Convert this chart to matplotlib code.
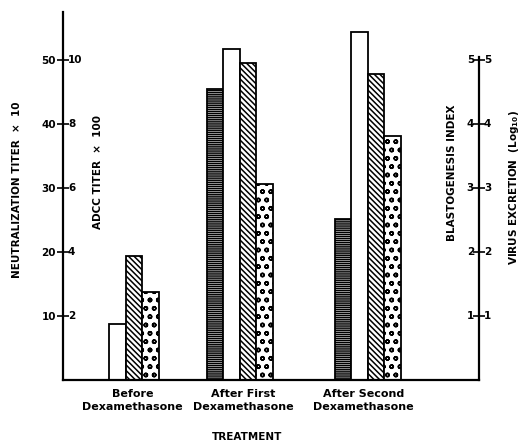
import matplotlib
matplotlib.use("Agg")
import matplotlib.pyplot as plt
import matplotlib.transforms as mtransforms

# values read in neutralization-titer units (left axis, 0-50)
groups = ["Before\nDexamethasone", "After First\nDexamethasone", "After Second\nDexamethasone"]
hlines_vals = [None, 45.5, 25.1]
open_vals = [8.8, 51.7, 54.4]
diag_vals = [19.4, 49.5, 47.8]
dots_vals = [13.7, 30.7, 38.2]

left_ticks = [10, 20, 30, 40, 50]
left_labels = ["10", "20", "30", "40", "50"]
adcc_labels = ["2", "4", "6", "8", "10"]
right_labels = ["1", "2", "3", "4", "5"]

plt.rcParams["font.family"] = "DejaVu Sans"
plt.rcParams["font.weight"] = "bold"
plt.rcParams["hatch.linewidth"] = 1.1

fig = plt.figure(figsize=(5.21, 4.42), dpi=100)
ax = fig.add_axes([63 / 521, 1 - 380 / 442, (479 - 63) / 521, (380 - 12) / 442])

group_start = [1.8, 8.7, 16.45]
series = [
    (hlines_vals, "white", "--------"),
    (open_vals, "white", None),
    (diag_vals, "white", "\\\\\\\\\\\\"),
    (dots_vals, "white", "oo"),
]
for k, (vals, fc, hatch) in enumerate(series):
    for g, v in enumerate(vals):
        if v is None:
            continue
        ax.bar(group_start[g] + k, v, width=1.0, align="edge", facecolor=fc,
               edgecolor="black", linewidth=1.3, hatch=hatch)

ax.set_xlim(0, 25.2)
ax.set_ylim(0, 57.5)

for s in ["left", "bottom", "right"]:
    ax.spines[s].set_linewidth(1.6)
ax.spines["top"].set_visible(False)
ax.spines["right"].set_bounds(0, 50.5)

ax.set_yticks(left_ticks)
ax.set_yticklabels(left_labels, fontsize=7.5, fontweight="bold")
ax.tick_params(axis="y", direction="inout", length=8, width=1.2, pad=1, right=True)
ax.set_xticks([])

blend = mtransforms.blended_transform_factory(ax.transAxes, ax.transData)
for t, lab in zip(left_ticks, adcc_labels):
    ax.text(0.012, t, lab, transform=blend, ha="left", va="center", fontsize=7.5, fontweight="bold")
for t, lab in zip(left_ticks, right_labels):
    ax.text(0.988, t, lab, transform=blend, ha="right", va="center", fontsize=7.5, fontweight="bold")
    ax.text(1.012, t, lab, transform=blend, ha="left", va="center", fontsize=7.5, fontweight="bold")

label_centers = [4.2, 10.9, 18.2]
for c, g in zip(label_centers, groups):
    ax.text(c, -0.025, g, transform=mtransforms.blended_transform_factory(ax.transData, ax.transAxes),
            ha="center", va="top", fontsize=8, fontweight="bold", linespacing=1.3)

fig.text(247 / 521, 1 - 437 / 442, "TREATMENT", ha="center", va="center", fontsize=7.5, fontweight="bold")
fig.text(17 / 521, 1 - 190 / 442, "NEUTRALIZATION TITER  \u00d7  10", rotation=90,
         ha="center", va="center", fontsize=7.5, fontweight="bold")
fig.text(98 / 521, 1 - 172 / 442, "ADCC TITER  \u00d7  100", rotation=90,
         ha="center", va="center", fontsize=7.5, fontweight="bold")
fig.text(452 / 521, 1 - 173 / 442, "BLASTOGENESIS INDEX", rotation=90,
         ha="center", va="center", fontsize=7.5, fontweight="bold")
fig.text(514 / 521, 1 - 187 / 442, "VIRUS EXCRETION  (Log$_{\\mathbf{10}}$)", rotation=90,
         ha="center", va="center", fontsize=7.5, fontweight="bold")

fig.savefig("out.png", dpi=100)
